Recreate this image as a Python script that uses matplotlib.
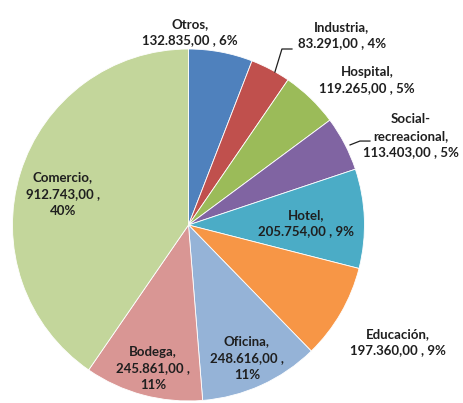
import matplotlib
matplotlib.use("Agg")
import matplotlib.pyplot as plt

categories = ["Otros", "Industria", "Hospital", "Social-\nrecreacional", "Hotel",
              "Educación", "Oficina", "Bodega", "Comercio"]
values = [132835, 83291, 119265, 113403, 205754, 197360, 248616, 245861, 912743]
value_labels = ["132.835,00", "83.291,00", "119.265,00", "113.403,00", "205.754,00",
                "197.360,00", "248.616,00", "245.861,00", "912.743,00"]
percent_labels = ["6%", "4%", "5%", "5%", "9%", "9%", "11%", "11%", "40%"]
colors = ["#4F81BD", "#C0504D", "#9BBB59", "#8064A2", "#4BACC6",
          "#F79646", "#95B3D7", "#D99694", "#C3D69B"]

# label centres (axes data units, pie radius = 1) and line-break style
label_pos = [(0.009, 1.097), (0.872, 1.080), (1.014, 0.824), (1.264, 0.506),
             (0.668, 0.011), (1.190, -0.665), (0.332, -0.756), (-0.202, -0.813),
             (-0.713, 0.176)]
three_lines = [False, False, False, False, False, False, True, True, True]

fig = plt.figure(figsize=(4.64, 4.03), dpi=100)
fig.patch.set_facecolor("white")
ax = fig.add_axes([0.0269, 0.005, 0.7586, 0.8734])

ax.pie(values, colors=colors, startangle=90, counterclock=False, radius=1,
       wedgeprops=dict(edgecolor="white", linewidth=0.6))
ax.set_xlim(-1, 1)
ax.set_ylim(-1, 1)
ax.set_aspect("auto")
ax.axis("off")

for cat, val, pct, pos, three in zip(categories, value_labels, percent_labels,
                                     label_pos, three_lines):
    if three:
        txt = f"{cat},\n{val} ,\n{pct}"
    else:
        txt = f"{cat},\n{val} , {pct}"
    ax.text(pos[0], pos[1], txt, ha="center", va="center", fontsize=9.5,
            fontweight="bold", family="Lato", color="#1F1F1F",
            linespacing=1.45, clip_on=False)

# leader lines for the two labels placed away from their slices
leaders = [[(0.491, 0.869), (0.531, 1.0), (0.588, 1.0)],
           [(0.918, 0.455), (0.974, 0.477), (1.031, 0.477)]]
for pts in leaders:
    xs, ys = zip(*pts)
    ax.plot(xs, ys, color="#1F1F1F", linewidth=0.9, clip_on=False)

fig.savefig("out.png", dpi=100, facecolor="white")
